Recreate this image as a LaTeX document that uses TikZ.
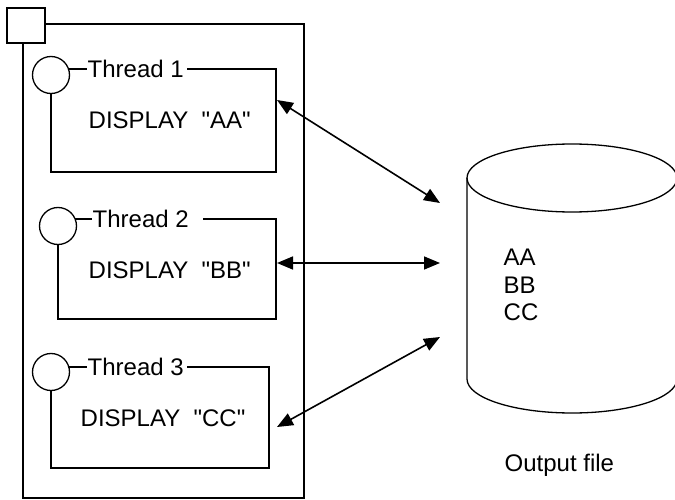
\documentclass[tikz,border=0pt]{standalone}
\usepackage{fontspec}
\newfontfamily\arl{Liberation Sans}
\usetikzlibrary{arrows.meta}
\begin{document}
\begin{tikzpicture}[x=1pt,y=-1pt, line width=1.4pt,
  lbl/.style={inner sep=0pt, anchor=west, font=\arl\fontsize{24}{28}\selectfont},
  thrd/.style={draw, line width=1.3pt, circle, minimum size=37pt, inner sep=0pt},
  conn/.style={{Triangle[length=16pt,width=13pt]}-{Triangle[length=16pt,width=13pt]}, line width=1.6pt}]
\useasboundingbox (0,0) rectangle (675,500);
\clip (0,0) rectangle (675,500);
% process frame
\node[draw, minimum width=38pt, minimum height=35pt, inner sep=0pt] (sq) at (26,25.5) {};
\draw (sq.east |- 0,24) -- (304,24) -- (304,498) -- (23,498) -- (sq.south -| 23,0);
% Thread 1
\node[thrd] (c1) at (51,75) {};
\node[lbl] (t1) at (87,69) {Thread 1};
\draw (68,69) -- (t1.west);
\draw (t1.east) ++(3,0) -- (276,69) -- (276,172) -- (51,172) -- (c1.south);
\node[lbl] (d1) at (88,120) {DISPLAY \ "AA"};
% Thread 2
\node[thrd] (c2) at (58,226) {};
\node[lbl] (t2) at (92,219) {Thread 2};
\draw (74.5,219) -- (t2.west);
\draw (203,219) -- (276,219) -- (276,319) -- (58,319) -- (c2.south);
\node[lbl] (d2) at (88,270) {DISPLAY \ "BB"};
% Thread 3
\node[thrd] (c3) at (51,372) {};
\node[lbl] (t3) at (87,367) {Thread 3};
\draw (68,367) -- (t3.west);
\draw (t3.east) ++(3,0) -- (269,367) -- (269,468) -- (51,468) -- (c3.south);
\node[lbl] (d3) at (80,418) {DISPLAY \ "CC"};
% arrows
\coordinate (a1) at (277,100); \coordinate (b1) at (440,203);
\coordinate (a2) at (277,263); \coordinate (b2) at (440,263);
\coordinate (a3) at (277,427); \coordinate (b3) at (440,337);
\draw[conn] (a1) -- (b1);
\draw[conn] (a2) -- (b2);
\draw[conn] (a3) -- (b3);
% output file cylinder (right side cut off by the picture edge)
\draw[line width=1.3pt] (572,178) ellipse[x radius=105pt, y radius=34pt];
\draw[line width=1.3pt] (467,178) -- (467,379) arc[start angle=180, end angle=360, x radius=105pt, y radius=34pt] -- (677,178);
\node[lbl] (aa) at (503,257) {AA};
\node[lbl] (bb) at (503,285) {BB};
\node[lbl] (cc) at (503,312) {CC};
\node[lbl] (of) at (504,465) {Output file};
\end{tikzpicture}
\end{document}
